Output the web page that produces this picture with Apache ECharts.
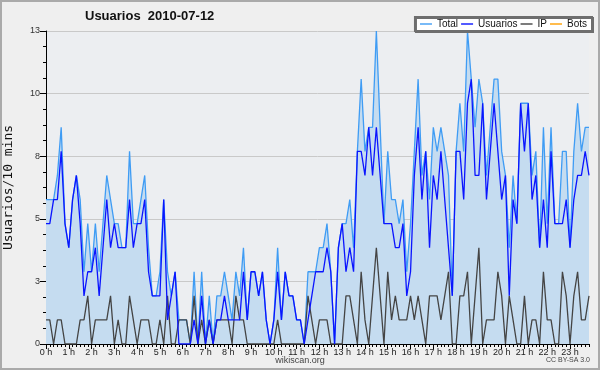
<!DOCTYPE html>
<html><head><meta charset="utf-8">
<script src="https://cdn.jsdelivr.net/npm/echarts@6/dist/echarts.min.js"></script>
<style>html,body{margin:0;padding:0;background:#efefef}#c{width:600px;height:370px}</style>
</head><body><div id="c"></div><script>
// 10-minute slots of 2010-07-12
const categories = [];
for (let h = 0; h < 24; h++) for (let m = 0; m < 60; m += 10) categories.push(h + ':' + (m < 10 ? '0' : '') + m);

const total = [6,6,6,7,9,5,4,6,7,6,3,5,3,5,3,5,7,6,5,5,4,4,8,5,5,6,7,4,2,2,
3,6,3,2,3,1,1,1,0,3,0,3,0,2,0,2,2,3,2,1,3,2,4,1,3,3,2,3,1,0,
1,4,1,3,2,2,1,1,0,3,3,3,4,4,5,3,0,4,5,5,6,4,8,11,8,9,9,13,9,5,
8,6,6,5,6,3,5,8,11,7,8,6,9,8,9,8,7,2,8,10,8,13,11,9,11,10,7,9,11,11,
8,7,4,7,5,10,10,10,7,8,4,9,5,9,5,5,8,8,4,8,10,8,9,9];
const usuarios = [5,5,6,6,8,5,4,6,7,5,2,3,3,4,2,4,6,4,5,4,4,4,6,4,5,5,6,3,2,2,
2,6,1,2,3,0,0,0,0,1,0,2,0,1,0,1,1,2,1,1,1,1,3,1,3,3,2,3,1,0,
1,3,1,3,2,2,1,1,0,1,2,3,3,3,4,3,0,4,5,3,4,3,8,8,7,9,7,9,7,5,
5,5,4,4,5,2,3,7,9,6,8,4,7,6,8,6,4,2,8,8,6,10,11,7,7,10,6,8,10,8,
6,7,2,6,5,10,8,10,6,7,4,6,4,8,5,5,5,6,4,6,7,7,8,7];
const ip = [1,1,0,1,1,0,0,0,0,1,1,2,0,1,1,1,1,2,0,1,0,0,2,1,0,1,1,1,0,0,
1,0,2,0,0,1,1,1,0,2,0,1,0,1,0,1,1,1,1,0,2,1,1,0,0,0,0,0,0,0,
0,1,0,0,0,0,0,0,0,2,1,0,1,1,1,0,0,0,0,2,2,1,0,3,1,0,2,4,2,0,
3,1,2,1,1,1,2,1,2,1,0,2,2,2,1,2,3,0,0,2,2,3,0,2,4,0,1,1,1,3,
2,0,2,1,0,0,2,0,1,1,0,3,1,1,0,0,3,2,0,2,3,1,1,2];
const bots = [];
const yMax = 13;

const font = 'Liberation Sans';
const chart = echarts.init(document.getElementById('c'), null, {renderer: 'canvas'});
const lineSeries = (name, data, color, extra) => Object.assign({
  name, type: 'line', data, symbol: 'none', showSymbol: false,
  lineStyle: {color, width: 1.3}, itemStyle: {color}, animation: false
}, extra || {});

chart.setOption({
  backgroundColor: '#efefef',
  animation: false,
  title: {
    text: 'Usuarios  2010-07-12', left: 85, top: 10, padding: 0,
    textStyle: {fontFamily: font, fontSize: 13, fontWeight: 'bold', color: '#111'}
  },
  legend: {
    right: 8, top: 17, padding: [2, 5, 2, 5], itemGap: 3, itemWidth: 12, itemHeight: 1.4,
    icon: 'rect',
    backgroundColor: '#fff', borderColor: '#6e6e6e', borderWidth: 2,
    shadowColor: '#6e6e6e', shadowOffsetX: 1, shadowOffsetY: 1, shadowBlur: 0,
    textStyle: {fontFamily: font, fontSize: 10, color: '#111', padding: [0, 0, 0, 0]},
    data: ['Total', 'Usuarios', 'IP', 'Bots']
  },
  grid: {left: 46, right: 11, top: 31, bottom: 26, containLabel: false, outerBoundsMode: 'none',
    show: true, backgroundColor: '#eceef1', borderWidth: 0},
  xAxis: [{
    type: 'category', data: categories, boundaryGap: false,
    axisLine: {lineStyle: {color: '#000', width: 1}},
    axisTick: {show: true, interval: 0, length: 3, lineStyle: {color: '#000'}},
    axisLabel: {interval: 5, margin: 4, fontFamily: font, fontSize: 9, color: '#222',
      formatter: v => parseInt(v, 10) + ' h'},
    splitLine: {show: false}
  }, {
    type: 'category', data: categories, boundaryGap: false, position: 'bottom',
    axisLine: {show: false},
    axisTick: {show: true, interval: 5, length: 5, lineStyle: {color: '#000'}},
    axisLabel: {show: false}, splitLine: {show: false}
  }],
  yAxis: {
    type: 'value', min: 0, max: yMax, interval: yMax / 5,
    name: 'Usuarios/10 mins', nameLocation: 'middle', nameRotate: 90, nameGap: 31,
    nameTextStyle: {fontFamily: 'DejaVu Sans Mono', fontSize: 13, color: '#111'},
    axisLine: {show: true, lineStyle: {color: '#000'}},
    axisTick: {show: true, length: 6, lineStyle: {color: '#000'}},
    minorTick: {show: true, splitNumber: 4, length: 3, lineStyle: {color: '#000'}},
    axisLabel: {margin: 6, fontFamily: font, fontSize: 9, color: '#333', formatter: v => String(Math.round(v))},
    splitLine: {show: true, lineStyle: {color: '#c9c9c9', width: 1}}
  },
  series: [
    lineSeries('Total', total, '#3f9cf4', {areaStyle: {color: '#c5dcf0', opacity: 1}, z: 2}),
    lineSeries('Usuarios', usuarios, '#0a14ff', {z: 4}),
    lineSeries('IP', ip, '#444444', {z: 3}),
    lineSeries('Bots', bots, '#ffa000', {z: 3})
  ],
  graphic: [
    {type: 'text', left: 'center', top: 356, style: {text: 'wikiscan.org', font: '9px "Liberation Sans"', fill: '#444'}},
    {type: 'text', right: 10, top: 357, style: {text: 'CC BY-SA 3.0', font: '7px "Liberation Sans"', fill: '#444'}},
    {type: 'rect', shape: {x: 1, y: 1, width: 598, height: 368}, style: {fill: 'none', stroke: '#aaaaaa', lineWidth: 2}, silent: true}
  ]
});
</script></body></html>
